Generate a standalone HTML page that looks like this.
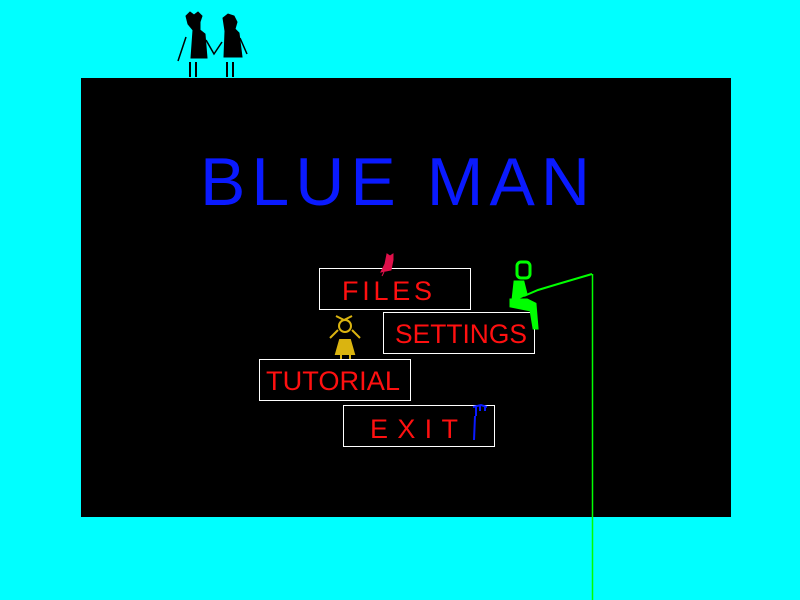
<!DOCTYPE html>
<html><head><meta charset="utf-8"><style>
html,body{margin:0;padding:0;background:#00ffff;width:800px;height:600px;overflow:hidden}
svg{display:block}
</style></head><body>
<svg width="800" height="600" xmlns="http://www.w3.org/2000/svg">
<rect x="0" y="0" width="800" height="600" fill="#00ffff"/>
<g fill="#000" stroke="#000">
 <path d="M186 16 l4 -4 4 3 4 -3 4 4 -2 6 0 8 5 4 2 24 -16 0 2 -28 -5 -6z"/>
 <path d="M223 18 l5 -4 6 2 3 6 -2 7 4 4 3 24 -18 0 1 -26z"/>
 <line x1="190" y1="62" x2="190" y2="77" stroke-width="2"/><line x1="196" y1="62" x2="196" y2="77" stroke-width="2"/>
 <line x1="227" y1="62" x2="227" y2="77" stroke-width="2"/><line x1="233" y1="62" x2="233" y2="77" stroke-width="2"/>
 <path d="M186 37 l-8 24 M206 40 l8 14 l8 -12 M240 38 l7 16" fill="none" stroke-width="1.5"/>
</g>
<rect x="81" y="78" width="650" height="439" fill="#000"/>
<text x="200" y="205" font-family="Liberation Sans, sans-serif" font-size="68" fill="#0a1aff" textLength="390" lengthAdjust="spacing">BLUE MAN</text>
<g font-family="Liberation Sans, sans-serif" font-size="27" fill="#ff1010" stroke="none">
 <g><rect x="319.5" y="268.5" width="151" height="41" fill="none" stroke="#fff"/><text x="342" y="300" textLength="90" lengthAdjust="spacing">FILES</text></g>
 <g><rect x="383.5" y="312.5" width="151" height="41" fill="none" stroke="#fff"/><text x="395" y="343" textLength="132" lengthAdjust="spacingAndGlyphs">SETTINGS</text></g>
 <g><rect x="259.5" y="359.5" width="151" height="41" fill="none" stroke="#fff"/><text x="266" y="390" textLength="134" lengthAdjust="spacingAndGlyphs">TUTORIAL</text></g>
 <g><rect x="343.5" y="405.5" width="151" height="41" fill="none" stroke="#fff"/><text x="370" y="438" textLength="88" lengthAdjust="spacing">EXIT</text></g>
</g>
<path d="M381 272 l4 -8 l2 -10 l3 2 l3 -2 l0 6 l-2 10z M384 272 l-2 4" fill="#e0104a" stroke="#e0104a"/>
<g fill="#dab410" stroke="#dab410" stroke-width="2">
 <path d="M336 316 l8 4 l8 -4" fill="none"/><circle cx="345" cy="326" r="6" fill="none"/>
 <path d="M338 330 l-8 8 M352 330 l8 8" fill="none"/>
 <path d="M340 340 l10 0 l4 14 l-18 0z"/>
 <line x1="341" y1="354" x2="341" y2="359"/><line x1="350" y1="354" x2="350" y2="359"/>
</g>
<g stroke="#00ff00" fill="#00ff00" stroke-width="3">
 <rect x="517" y="262" width="13" height="16" rx="4" fill="none"/>
 <path d="M515 282 l8 0 l3 12 l-13 6z"/>
 <path d="M511 300 l16 0 l8 4 l2 24 l-3 0 l-3 -18 l-20 -4z"/>
 <path d="M524 296 l14 -6 l20 -6 l34 -10" fill="none" stroke-width="2"/>
</g>
<line x1="592.5" y1="274" x2="592.5" y2="600" stroke="#00ff00" stroke-width="1.5"/>
<path d="M473 407 l8 -2 l6 2 M476 406 l0 10 M475 416 l-1 24 M480 405 l0 6 M485 406 l0 5" stroke="#0a1aff" stroke-width="2" fill="none"/>
</svg>
</body></html>
